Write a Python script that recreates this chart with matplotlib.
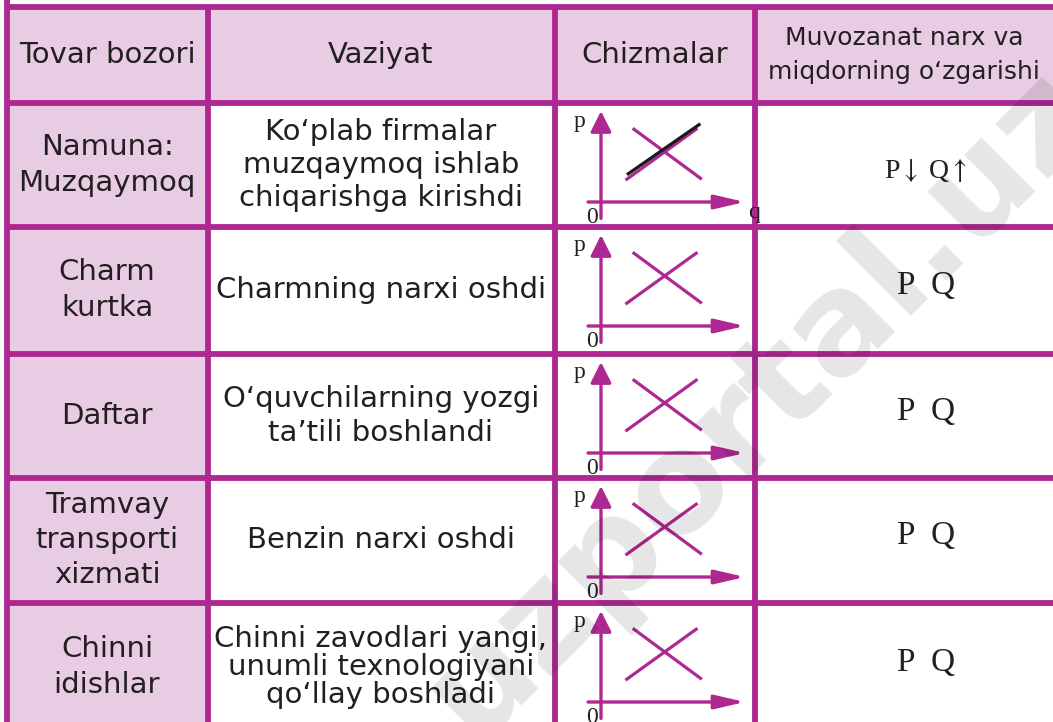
import matplotlib.pyplot as plt

plt.rcParams['mathtext.fontset'] = 'stix'

# table content
headers = ["Tovar bozori", "Vaziyat", "Chizmalar", "Muvozanat narx va\nmiqdorning o‘zgarishi"]
goods = ["Namuna:\nMuzqaymoq", "Charm\nkurtka", "Daftar",
         "Tramvay\ntransporti\nxizmati", "Chinni\nidishlar"]
situations = ["Ko‘plab firmalar\nmuzqaymoq ishlab\nchiqarishga kirishdi",
              "Charmning narxi oshdi",
              "O‘quvchilarning yozgi\nta’tili boshlandi",
              "Benzin narxi oshdi",
              "Chinni zavodlari yangi,\nunumli texnologiyani\nqo‘llay boshladi"]
answers = [r"P$\downarrow$ Q$\uparrow$", "P  Q", "P  Q", "P  Q", "P  Q"]
shifted = [True, False, False, False, False]   # only the example row has the black curve

# small supply/demand sketch (q, p in 0..1 of the axis arrows)
demand_q = [0.22, 0.70]
demand_p = [0.81, 0.25]
supply_q = [0.17, 0.67]
supply_p = [0.24, 0.81]
new_supply_q = [0.18, 0.69]
new_supply_p = [0.30, 0.86]

mag = '#AE2891'
pink = '#E8CCE3'
ink = '#231F20'

W, H = 1053, 722
col_x = [7, 208, 555, 755, W]
row_y = [7, 103, 227, 354, 478, 603, H]
row_mid = [55, 165, 290, 416, 540, 667]

fig = plt.figure(figsize=(W / 100, H / 100), dpi=100)
ax = fig.add_axes([0, 0, 1, 1])
ax.set_xlim(0, W)
ax.set_ylim(H, 0)
ax.axis('off')

# pink cells: header row and first column
ax.fill_between([col_x[0], W], row_y[0], row_y[1], color=pink, lw=0)
ax.fill_between([col_x[0], col_x[1]], row_y[1], H, color=pink, lw=0)

# grid lines
ax.vlines(col_x[0], 0, H, color=mag, lw=4.2)
ax.vlines(col_x[1:4], row_y[0], H, color=mag, lw=4.2)
ax.hlines(row_y[:-1], col_x[0], W, color=mag, lw=4.2)

sans = dict(family='DejaVu Sans', color=ink, ha='center', va='center')
col_mid = [107, 381, 655, 904]
for j, h in enumerate(headers):
    ax.text(col_mid[j], row_mid[0], h, fontsize=21 if j < 3 else 18,
            linespacing=1.5, **sans)

for i in range(5):
    y = row_mid[i + 1]
    ax.text(col_mid[0], y, goods[i], fontsize=21, linespacing=1.32, **sans)
    ax.text(col_mid[1], y, situations[i], fontsize=21,
            linespacing=0.98 if i == 4 else 1.25, **sans)
    ax.text(926, y + (6 if i == 0 else -4), answers[i],
            fontsize=20 if i == 0 else 24,
            family=['Liberation Serif', 'DejaVu Serif'], color=ink,
            ha='center', va='center')

    # sketch axes: origin at (601, top+99), arrows 144 px right and 91 px up
    y0 = row_y[i + 1]
    d = fig.add_axes([601 / W, (H - (y0 + 99)) / H, 144 / W, 91 / H])
    d.set_xlim(0, 1)
    d.set_ylim(0, 1)
    d.axis('off')
    d.annotate('', xy=(0, 1), xytext=(0, -0.18),
               arrowprops=dict(arrowstyle='-|>,head_length=0.9,head_width=0.45',
                               mutation_scale=14, lw=2.4, color=mag,
                               shrinkA=0, shrinkB=0))
    d.annotate('', xy=(1, 0), xytext=(-0.09, 0),
               arrowprops=dict(arrowstyle='-|>,head_length=1.3,head_width=0.3',
                               mutation_scale=14, lw=2.4, color=mag,
                               shrinkA=0, shrinkB=0))
    d.plot(demand_q, demand_p, color=mag, lw=2.3, solid_capstyle='butt')
    d.plot(supply_q, supply_p, color=mag, lw=2.3, solid_capstyle='butt')
    if shifted[i]:
        d.plot(new_supply_q, new_supply_p, color='#1a1a1a', lw=2.3,
               solid_capstyle='butt')
    serif = dict(family=['Liberation Serif', 'DejaVu Serif'], color=ink,
                 fontsize=17, ha='center', va='center')
    d.text(-0.15, 0.88, 'p', **serif)
    d.text(-0.06, -0.17, '0', **serif)
    if i == 0:
        d.text(1.06, -0.11, 'q', **serif)

# faint site watermark
fig.text(759 / W, 1 - 403 / H, 'uzportal.uz', rotation=45, fontsize=100,
         fontweight='bold', family='DejaVu Sans', color='k', alpha=0.1,
         ha='center', va='center', rotation_mode='anchor')

fig.savefig('out.png', dpi=100)
